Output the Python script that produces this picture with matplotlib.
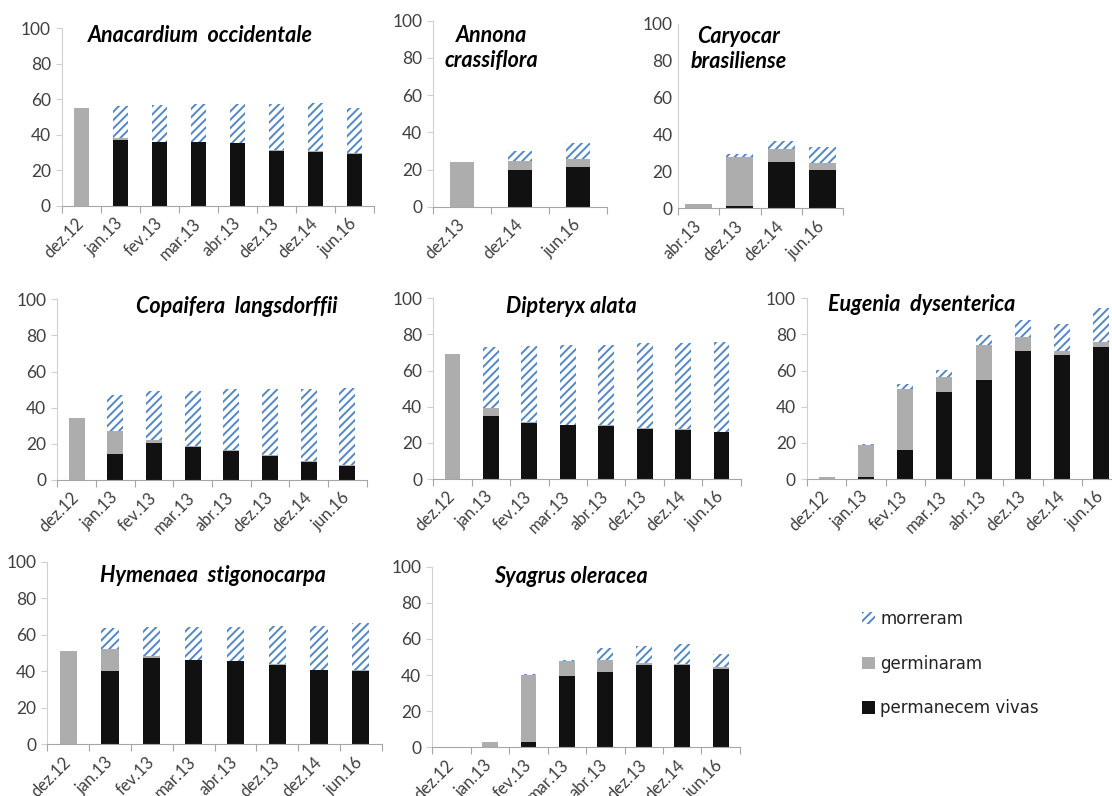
import numpy as np
import matplotlib
matplotlib.use("Agg")
import matplotlib.pyplot as plt
from matplotlib.patches import Patch

plt.rcParams['font.family'] = ['Lato', 'DejaVu Sans']
plt.rcParams['hatch.linewidth'] = 1.4

BLUE = '#5287C6'
GRAY = '#ADADAD'
BLACK = '#111111'

cats8 = ['dez.12', 'jan.13', 'fev.13', 'mar.13', 'abr.13', 'dez.13', 'dez.14', 'jun.16']

# Anacardium occidentale
anac_vivas = [0, 37, 35.7, 35.7, 35.3, 30.8, 30.5, 29]
anac_germ = [55, 1, 0.3, 0.2, 0.2, 0.7, 0.2, 0.7]
anac_morr = [0, 18.2, 20.8, 21.3, 21.7, 25.8, 27.3, 25.5]

# Annona crassiflora
anno_cats = ['dez.13', 'dez.14', 'jun.16']
anno_vivas = [0, 19.7, 21.2]
anno_germ = [24.2, 4.9, 4.4]
anno_morr = [0, 5.4, 8.4]

# Caryocar brasiliense
cary_cats = ['abr.13', 'dez.13', 'dez.14', 'jun.16']
cary_vivas = [0, 1.2, 25, 20.8]
cary_germ = [2.3, 26.5, 7, 4]
cary_morr = [0, 1.6, 4.3, 8.5]

# Copaifera langsdorffii
copa_vivas = [0, 14.4, 20.3, 18.4, 16.2, 13.3, 10, 7.7]
copa_germ = [34.5, 12.7, 1.8, 0.3, 0.3, 0.3, 0.3, 0.6]
copa_morr = [0, 19.9, 27.2, 30.6, 33.9, 36.8, 40.1, 42.7]

# Dipteryx alata
dipt_vivas = [0, 35, 31.2, 29.9, 29.5, 27.5, 27.3, 25.8]
dipt_germ = [69.3, 4.3, 0.3, 0.2, 0.2, 0.5, 0.2, 0.2]
dipt_morr = [0, 33.9, 42.1, 44.1, 44.5, 47.1, 47.6, 50]

# Eugenia dysenterica
euge_vivas = [0, 1.3, 16, 48.3, 54.8, 70.8, 68.6, 73.2]
euge_germ = [1.3, 17.5, 33.6, 8.1, 19.4, 7.6, 2.2, 2.6]
euge_morr = [0, 0.6, 3, 3.9, 5.5, 9.6, 14.8, 18.7]

# Hymenaea stigonocarpa
hyme_vivas = [0, 40.3, 47.4, 46.1, 45.6, 43.2, 40.7, 40.3]
hyme_germ = [51.3, 11.7, 0.8, 0.2, 0.2, 0.6, 0.2, 0.2]
hyme_morr = [0, 11.5, 15.8, 17.7, 18.2, 20.9, 23.8, 26]

# Syagrus oleracea
syag_vivas = [0, 0, 2.9, 39.5, 41.7, 45.4, 45.4, 43.2]
syag_germ = [0, 2.9, 36.9, 8.3, 6.6, 1.1, 0.5, 1.1]
syag_morr = [0, 0, 0.6, 0.5, 6.8, 9.7, 11.1, 7.2]

W, H = 1112, 796
fig = plt.figure(figsize=(W / 100, H / 100), dpi=100)


def panel(box, cats, vivas, germ, morr, title, tx, ty, width=0.41, yticks=True):
    l, t, r, b = box
    ax = fig.add_axes([l / W, 1 - b / H, (r - l) / W, (b - t) / H])
    x = np.arange(len(cats))
    vivas = np.array(vivas)
    germ = np.array(germ)
    ax.bar(x, vivas, width, color=BLACK, linewidth=0)
    ax.bar(x, germ, width, bottom=vivas, color=GRAY, linewidth=0)
    ax.bar(x, morr, width, bottom=vivas + germ, color='white', edgecolor=BLUE,
           hatch='////', linewidth=0)
    ax.set_xlim(-0.5, len(cats) - 0.5)
    ax.set_ylim(0, 100)
    ax.set_yticks([0, 20, 40, 60, 80, 100])
    ax.set_xticks(x)
    ax.set_xticklabels(cats, rotation=45, ha='right', va='center',
                       rotation_mode='anchor', fontsize=12, color='#404040')
    ax.set_xticks(np.arange(-0.5, len(cats)), minor=True)
    ax.tick_params(axis='x', which='major', length=0, pad=11)
    ax.tick_params(axis='x', which='minor', length=5, color='#A6A6A6', width=0.8)
    ax.tick_params(axis='y', labelsize=12.5, labelcolor='#404040', length=4 if yticks else 0,
                   color='#D0D0D0', width=0.8, pad=4)
    for s in ['top', 'right']:
        ax.spines[s].set_visible(False)
    ax.spines['left'].set_color('#D0D0D0')
    ax.spines['bottom'].set_color('#A6A6A6')
    ax.text(tx, ty, title, transform=ax.transAxes, ha='center', va='center',
            fontsize=15.5, fontweight='bold', fontstyle='italic', linespacing=1.2)
    return ax


panel((62, 28.3, 374, 205.7), cats8, anac_vivas, anac_germ, anac_morr,
      'Anacardium  occidentale', 0.445, 0.96)
panel((433.3, 20.7, 606.7, 206.7), anno_cats, anno_vivas, anno_germ, anno_morr,
      'Annona\ncrassiflora', 0.337, 0.853, width=0.42)
panel((678, 24, 843, 208.3), cary_cats, cary_vivas, cary_germ, cary_morr,
      'Caryocar\nbrasiliense', 0.368, 0.864, width=0.66, yticks=False)
panel((57.3, 299.3, 366.7, 480), cats8, copa_vivas, copa_germ, copa_morr,
      'Copaifera  langsdorffii', 0.58, 0.959)
panel((433.3, 298.3, 740.7, 479), cats8, dipt_vivas, dipt_germ, dipt_morr,
      'Dipteryx alata', 0.45, 0.953)
panel((807, 298.3, 1121, 479), cats8, euge_vivas, euge_germ, euge_morr,
      'Eugenia  dysenterica', 0.365, 0.963)
panel((47.4, 561.7, 381.6, 744.3), cats8, hyme_vivas, hyme_germ, hyme_morr,
      'Hymenaea  stigonocarpa', 0.494, 0.927)
panel((432.3, 566.7, 739.9, 747.3), cats8, syag_vivas, syag_germ, syag_morr,
      'Syagrus oleracea', 0.45, 0.945)

handles = [Patch(facecolor='white', edgecolor=BLUE, hatch='////', linewidth=0),
           Patch(facecolor=GRAY, linewidth=0),
           Patch(facecolor=BLACK, linewidth=0)]
fig.legend(handles, ['morreram', 'germinaram', 'permanecem vivas'],
           loc='upper left', bbox_to_anchor=(847 / W, 1 - 595 / H),
           frameon=False, labelspacing=1.6,
           prop={'family': 'DejaVu Sans', 'size': 12},
           handlelength=0.75, handleheight=0.75, handletextpad=0.35,
           labelcolor='#222222')

fig.savefig('out.png', dpi=100)
